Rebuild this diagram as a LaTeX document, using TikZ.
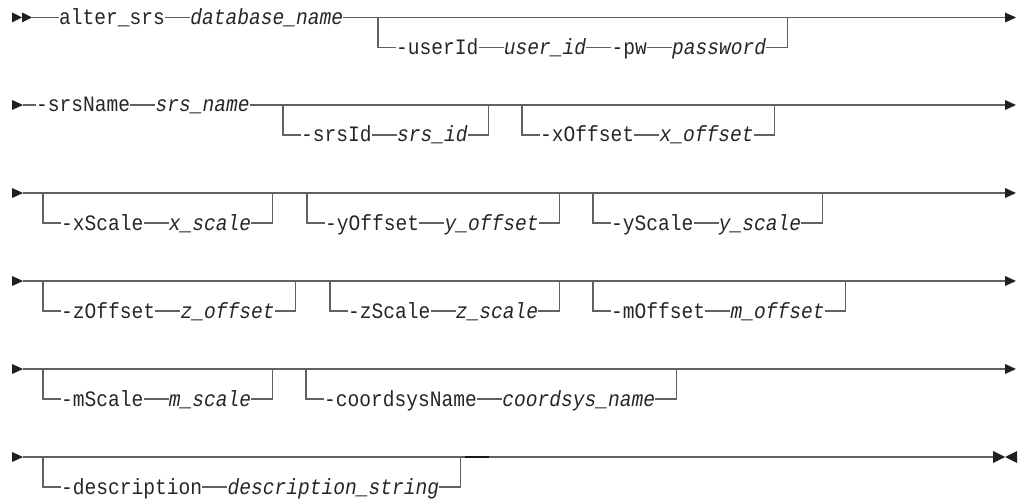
\documentclass[tikz,border=0pt]{standalone}
\usepackage{fontspec}
\newfontfamily\rrmono[FakeStretch=0.89]{Liberation Mono}
\tikzset{
  tok/.style={inner sep=0pt, anchor=base west, text=black!85, font=\rrmono\fontsize{22}{26}\selectfont},
  var/.style={tok, font=\rrmono\itshape\fontsize{22}{26}\selectfont},
  ln/.style={draw=black!62, line width=1.2pt},
  tip/.style={fill=black!88},
}
\newcommand\rrpair[5]{% prefix, corner x, main y, keyword, variable
  \node[tok] (#1k) at (#2+18,#3+37) {#4};
  \node[var] (#1v) at ([xshift=25pt]#1k.base east) {#5};
  \draw[ln] (#2,#3) |- ([yshift=7pt]#1k.base west);
  \draw[ln] ([yshift=7pt]#1k.base east) -- ([yshift=7pt]#1v.base west);
  \draw[ln] ([yshift=7pt]#1v.base east) -- ++(21,0) coordinate (#1e) -- ++(0,-30);
}
\newcommand\rrstart[1]{\fill[tip] (12,#1-5) -- (23,#1) -- (12,#1+5) -- cycle;}
\newcommand\rrend[1]{\fill[tip] (1005,#1-5) -- (1016,#1) -- (1005,#1+5) -- cycle;}
\begin{document}
\begin{tikzpicture}[x=1pt,y=-1pt]
\useasboundingbox (0,0) rectangle (1019,500);
% ---------- row 1
\fill[tip] (12,12.5) -- (22,17.5) -- (12,22.5) -- cycle;
\fill[tip] (22,12.5) -- (32,17.5) -- (22,22.5) -- cycle;
\coordinate (s1) at (32,17.5);
\coordinate (e1) at (1005,17.5);
\node[tok] (alter) at (59,24.5) {alter\_srs};
\node[var] (db) at ([xshift=25pt]alter.base east) {database\_name};
\draw[ln] (s1) -- ([yshift=7pt]alter.base west);
\draw[ln] ([yshift=7pt]alter.base east) -- ([yshift=7pt]db.base west);
\draw[ln] ([yshift=7pt]db.base east) -- (e1);
\rrend{17.5}
\node[tok] (uid) at (396,54.5) {-userId};
\node[var] (uidv) at ([xshift=25pt]uid.base east) {user\_id};
\node[tok] (pw) at ([xshift=25pt]uidv.base east) {-pw};
\node[var] (pwv) at ([xshift=25pt]pw.base east) {password};
\draw[ln] (378,17.5) |- ([yshift=7pt]uid.base west);
\draw[ln] ([yshift=7pt]uid.base east) -- ([yshift=7pt]uidv.base west);
\draw[ln] ([yshift=7pt]uidv.base east) -- ([yshift=7pt]pw.base west);
\draw[ln] ([yshift=7pt]pw.base east) -- ([yshift=7pt]pwv.base west);
\draw[ln] ([yshift=7pt]pwv.base east) -- ++(21,0) -- ++(0,-30);
% ---------- row 2
\rrstart{105}
\coordinate (s2) at (23,105);
\coordinate (e2) at (1005,105);
\node[tok] (srsn) at (36,112) {-srsName};
\node[var] (srsnv) at ([xshift=25pt]srsn.base east) {srs\_name};
\draw[ln] (s2) -- ([yshift=7pt]srsn.base west);
\draw[ln] ([yshift=7pt]srsn.base east) -- ([yshift=7pt]srsnv.base west);
\draw[ln] ([yshift=7pt]srsnv.base east) -- (e2);
\rrend{105}
\rrpair{sid}{283}{105}{-srsId}{srs\_id}
\rrpair{xo}{522}{105}{-xOffset}{x\_offset}
% ---------- row 3
\rrstart{193}
\coordinate (s3) at (23,193);
\coordinate (e3) at (1005,193);
\draw[ln] (s3) -- (e3);
\rrend{193}
\rrpair{xs}{43}{193}{-xScale}{x\_scale}
\rrpair{yo}{307}{193}{-yOffset}{y\_offset}
\rrpair{ys}{593}{193}{-yScale}{y\_scale}
% ---------- row 4
\rrstart{281}
\coordinate (s4) at (23,281);
\coordinate (e4) at (1005,281);
\draw[ln] (s4) -- (e4);
\rrend{281}
\rrpair{zo}{43}{281}{-zOffset}{z\_offset}
\rrpair{zs}{330}{281}{-zScale}{z\_scale}
\rrpair{mo}{593}{281}{-mOffset}{m\_offset}
% ---------- row 5
\rrstart{369}
\coordinate (s5) at (23,369);
\coordinate (e5) at (1005,369);
\draw[ln] (s5) -- (e5);
\rrend{369}
\rrpair{ms}{43}{369}{-mScale}{m\_scale}
\rrpair{cs}{306}{369}{-coordsysName}{coordsys\_name}
% ---------- row 6
\rrstart{457}
\coordinate (s6) at (23,457);
\coordinate (e6) at (993,457);
\draw[ln] (s6) -- (e6);
\rrpair{ds}{43}{457}{-description}{description\_string}
\draw[line width=1.6pt, black!90] ([xshift=5pt]dse |- s6) -- ++(24,0);
\fill[tip] (993,451) -- (1005,457) -- (993,463) -- cycle;
\fill[tip] (1017,451) -- (1005,457) -- (1017,463) -- cycle;
\end{tikzpicture}
\end{document}
